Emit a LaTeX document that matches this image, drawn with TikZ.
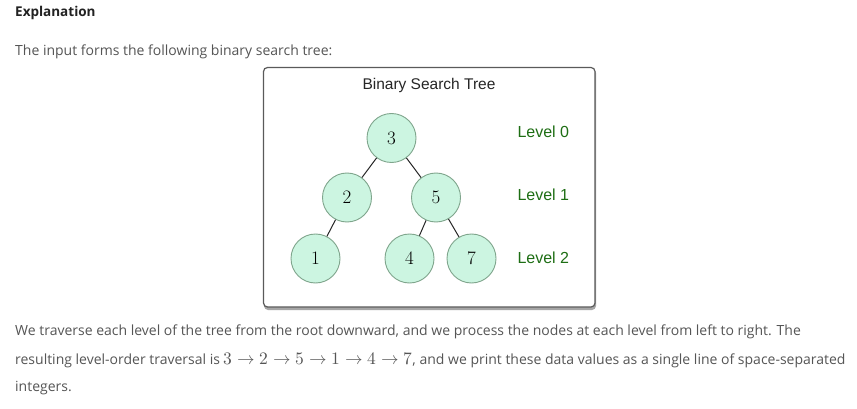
\documentclass[tikz,border=0pt]{standalone}
\usepackage{fontspec}
\setmainfont{Open Sans}
\newfontfamily\arialf{Liberation Sans}
\newfontfamily\lmrf{Latin Modern Roman}
\usepackage{unicode-math}
\setmathfont{Latin Modern Math}
\definecolor{bodytext}{HTML}{555555}
\definecolor{headtext}{HTML}{222222}
\definecolor{nodefill}{HTML}{CCF5E1}
\definecolor{nodeline}{HTML}{7FA58C}
\definecolor{lvlgreen}{HTML}{1E6E14}
\definecolor{boxline}{HTML}{5A5A5A}
\newcommand{\bigmath}[1]{{\fontsize{17.5}{16}\selectfont$#1$}}
\tikzset{
  treenode/.style={circle, draw=nodeline, line width=0.9pt, fill=nodefill, minimum size=49pt, inner sep=0pt, font=\lmrf\fontsize{19}{19}\selectfont, text=black},
  treeedge/.style={draw=black!85, line width=1pt},
  lvl/.style={font=\arialf\fontsize{16}{16}\selectfont, text=lvlgreen, anchor=west},
  para/.style={font=\fontsize{14}{16}\selectfont, text=bodytext, anchor=west, inner sep=0pt}
}
\begin{document}
\begin{tikzpicture}[x=1pt,y=-1pt]
\useasboundingbox (0,0) rectangle (857,409);
\fill[white] (0,0) rectangle (857,409);
% texts
\node[para, font=\bfseries\fontsize{13.5}{16}\selectfont, text=headtext] (expl) at (15,13) {Explanation};
\node[para] (intro) at (15,52) {The input forms the following binary search tree:};
% frame
\fill[black!35, rounded corners=4pt] (264,69) rectangle (596,310);
\draw[boxline, line width=1.2pt, fill=white, rounded corners=4pt] (263.5,67.5) rectangle (595,307);
\node[font=\arialf\fontsize{15.5}{15.5}\selectfont, text=black!85] (title) at (429,85) {Binary Search Tree};
% nodes
\node[treenode] (n3) at (391.5,138) {3};
\node[treenode] (n2) at (347,197.5) {2};
\node[treenode] (n5) at (436,197.5) {5};
\node[treenode] (n1) at (315.5,258.5) {1};
\node[treenode] (n4) at (409.5,258.5) {4};
\node[treenode] (n7) at (471.5,258.5) {7};
\draw[treeedge] (n3) -- (n2);
\draw[treeedge] (n3) -- (n5);
\draw[treeedge] (n2) -- (n1);
\draw[treeedge] (n5) -- (n4);
\draw[treeedge] (n5) -- (n7);
% levels
\node[lvl] (l0) at (514,132) {Level 0};
\node[lvl] (l1) at (514,195) {Level 1};
\node[lvl] (l2) at (514,258) {Level 2};
% bottom paragraph
\node[para] (p1) at (15,332) {We traverse each level of the tree from the root downward, and we process the nodes at each level from left to right. The};
\node[para] (p2) at (15,360) {resulting level-order traversal is \bigmath{3\rightarrow2\rightarrow5\rightarrow1\rightarrow4\rightarrow7}, and we print these data values as a single line of space-separated};
\node[para] (p3) at (15,388) {integers.};
\end{tikzpicture}
\end{document}
